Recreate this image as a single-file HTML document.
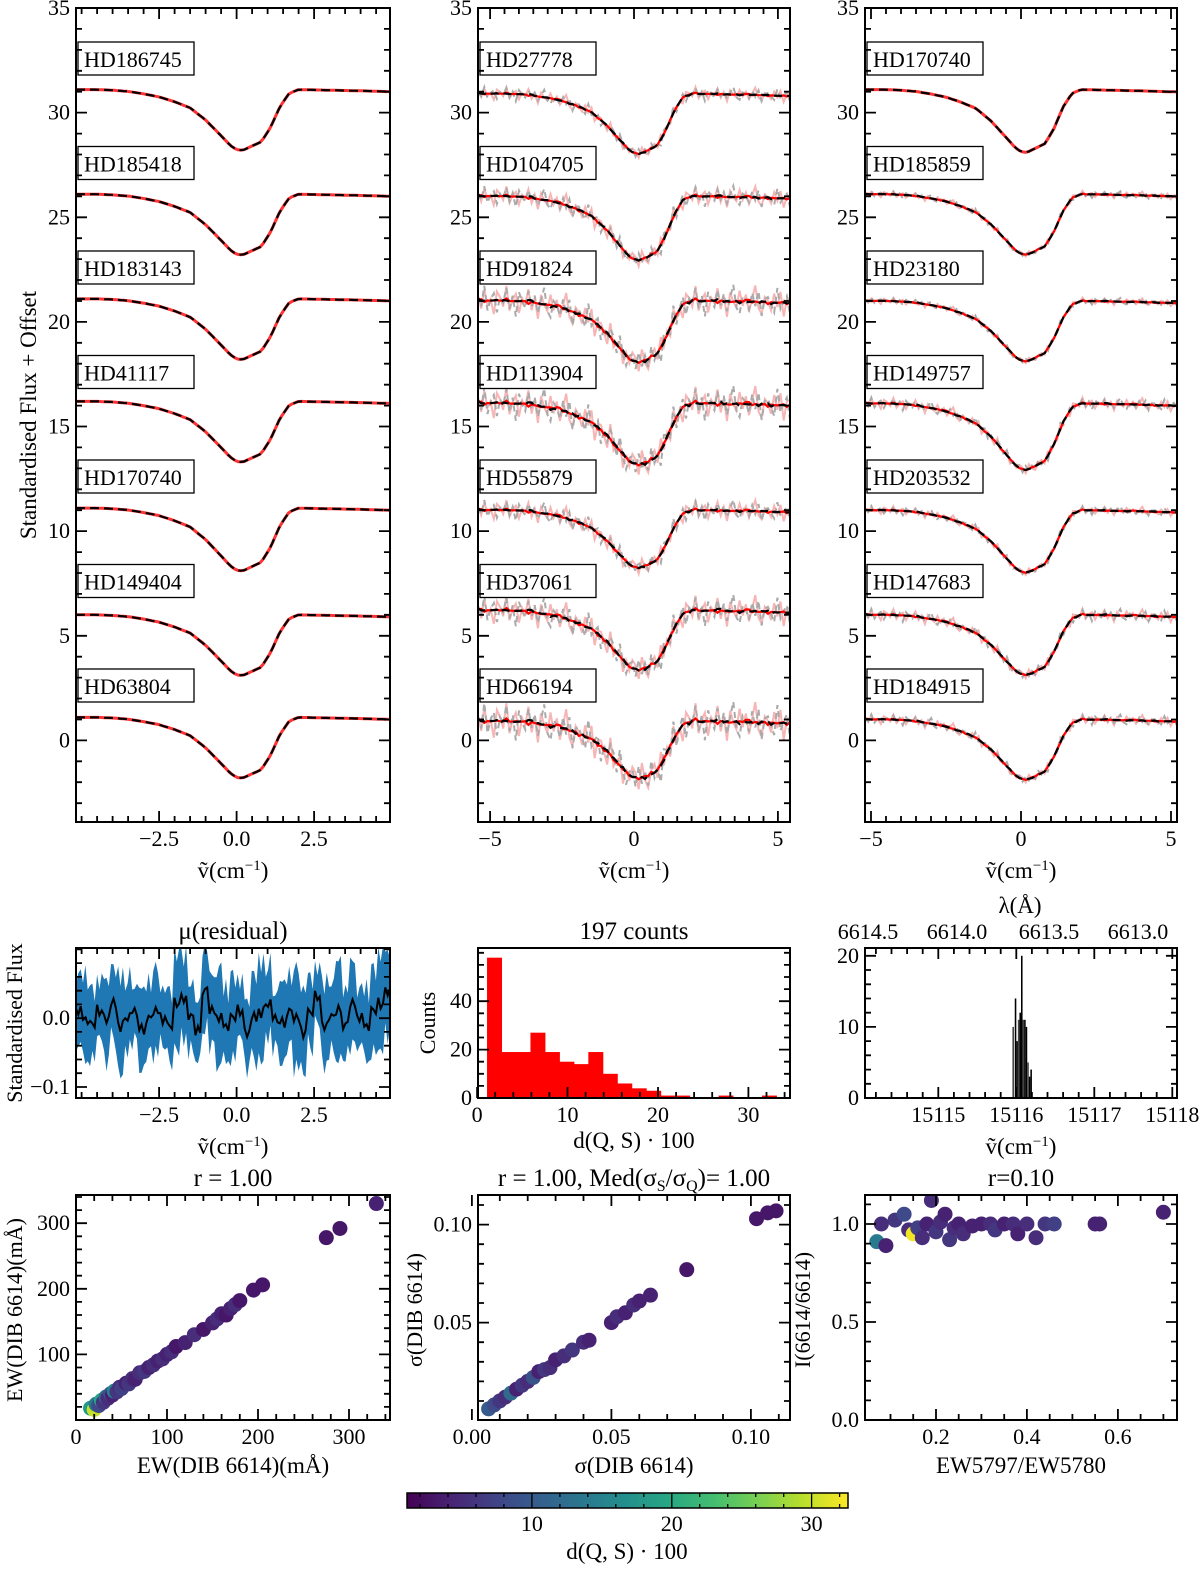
<!DOCTYPE html>
<html><head><meta charset="utf-8"><style>
html,body{margin:0;padding:0;background:#fff;}
text{font-family:"Liberation Serif",serif;fill:#000;}
</style></head><body>
<svg id="fig" width="1200" height="1564" viewBox="0 0 1200 1564" xmlns="http://www.w3.org/2000/svg"></svg>
<script>
// ---------- DATA ----------
const profileX = [-5.4,-4.5,-4,-3.5,-3,-2.5,-2,-1.5,-1,-0.5,-0.2,0,0.2,0.5,0.8,1.1,1.4,1.7,2,3,4,5.4];
const profileF = [0,0,-0.01,-0.03,-0.07,-0.12,-0.2,-0.3,-0.5,-0.76,-0.92,-0.99,-1,-0.93,-0.86,-0.62,-0.28,-0.06,0,-0.01,-0.02,-0.04];
const leftNames = ["HD186745","HD185418","HD183143","HD41117","HD170740","HD149404","HD63804"];
const leftCont = [31.1,26.1,21.1,16.2,11.1,6.0,1.1];
const leftMin = [28.2,23.2,18.2,13.3,8.1,3.1,-1.8];
const midNames = ["HD27778","HD104705","HD91824","HD113904","HD55879","HD37061","HD66194"];
const midCont = [30.9,26.0,21.0,16.1,11.0,6.2,0.9];
const midMin = [28.0,22.9,18.0,13.1,8.2,3.3,-1.9];
const midNoise = [0.4,0.6,0.9,1.0,0.6,0.9,1.1];
const rightNames = ["HD170740","HD185859","HD23180","HD149757","HD203532","HD147683","HD184915"];
const rightCont = [31.1,26.1,21.0,16.1,11.0,6.0,1.0];
const rightMin = [28.1,23.2,18.1,12.9,8.0,3.1,-1.9];
const noise = [0.3,-0.4,0.6,-0.2,0.1,-0.7,0.5,0.2,-0.3,0.8,-0.5,0.1,0.4,-0.6,0.2,-0.1,0.7,-0.4,0.3,-0.8,0.5,0.0,-0.3,0.6,-0.2,0.4,-0.5,0.2,0.9,-0.3,-0.6,0.3,0.1,-0.4,0.5,-0.2,0.6,-0.7,0.2,0.3,-0.1,-0.5,0.8,-0.3,0.1,0.4,-0.6,0.2,-0.2,0.5,0.3,-0.4,0.7,-0.1,-0.5,0.2,0.4,-0.3,0.6,-0.2];
const resid = [0.01,0.0,-0.01,0.01,0.0,0.02,-0.01,0.0,0.01,-0.02,0.0,0.01,0.0,-0.01,0.02,0.03,0.0,-0.02,0.04,0.01,0.0,-0.01,0.0,0.01,-0.02,0.0,0.01,0.02,0.0,-0.01,0.01,0.0,-0.02,0.01,0.03,-0.01,0.0,0.01,-0.01,0.02,0.0,-0.01,0.01,0.02,0.04];
const residBand = [0.05,0.06,0.05,0.04,0.06,0.05,0.07,0.05,0.04,0.06,0.05,0.06,0.04,0.05,0.07,0.06,0.05,0.04,0.06,0.05,0.07,0.05,0.06,0.04,0.05,0.06,0.07,0.05,0.04,0.06,0.05,0.07,0.06,0.05,0.04,0.06,0.05,0.07,0.05,0.06,0.04,0.05,0.06,0.07,0.06];
const histCounts = [58,19,19,27,19,15,14,19,10,6,4,3,1,1,0,0,1,0,0,1];
const histBinW = 1.6;
const wnBins = [15115.95,15115.98,15116.0,15116.02,15116.04,15116.06,15116.08,15116.1,15116.12,15116.14,15116.16,15116.18];
const wnCounts = [10,14,8,11,12,20,11,11,10,5,3,4];
const ewX = [16,20,22,25,28,30,33,35,38,40,42,45,48,50,55,58,62,65,70,75,80,85,90,95,100,105,110,120,130,140,150,155,160,165,170,175,180,195,205,275,290,330];
const ewY = [18,16,24,22,30,27,35,33,40,38,44,43,50,48,56,55,63,62,72,74,80,84,90,93,100,104,112,118,130,138,148,154,162,160,170,176,182,198,206,278,292,330];
const ewC = [18,30,14,8,20,6,12,5,9,4,15,6,5,7,4,6,5,4,5,6,4,5,4,5,4,5,3,4,5,3,4,5,4,3,4,5,3,3,3,3,3,4];
const sgX = [0.006,0.008,0.01,0.012,0.014,0.016,0.018,0.02,0.022,0.024,0.026,0.028,0.03,0.033,0.036,0.04,0.042,0.05,0.052,0.055,0.058,0.06,0.064,0.077,0.102,0.106,0.109];
const sgY = [0.006,0.008,0.01,0.012,0.014,0.016,0.018,0.02,0.022,0.025,0.026,0.027,0.031,0.033,0.036,0.04,0.041,0.05,0.053,0.055,0.059,0.061,0.064,0.077,0.103,0.106,0.107];
const sgC = [10,8,6,5,12,4,6,5,9,4,6,5,4,5,6,5,4,4,5,4,5,4,4,3,3,3,3];
const rtX = [0.07,0.08,0.09,0.11,0.13,0.14,0.15,0.16,0.17,0.18,0.19,0.2,0.21,0.22,0.23,0.24,0.25,0.26,0.28,0.3,0.32,0.33,0.35,0.37,0.38,0.4,0.42,0.44,0.46,0.55,0.56,0.7];
const rtY = [0.91,1.0,0.89,1.02,1.05,0.97,0.95,0.98,0.93,1.0,1.12,0.96,1.01,1.05,0.92,0.98,1.0,0.95,0.99,1.0,1.0,0.97,1.0,1.0,0.95,1.0,0.93,1.0,1.0,1.0,1.0,1.06];
const rtC = [14,5,4,6,8,5,32,7,5,4,5,6,5,4,6,5,4,5,4,4,5,6,4,5,4,5,5,6,7,4,4,4];
const cbTicks = [10,20,30];

// ---------- HELPERS ----------
const NS="http://www.w3.org/2000/svg", svg=document.getElementById('fig');
const FONT='"Liberation Serif", serif';
const tickLayer=[];
function el(tag,attrs,parent){const e=document.createElementNS(NS,tag);for(const k in attrs)e.setAttribute(k,attrs[k]);(parent||svg).appendChild(e);return e;}
function txt(x,y,s,size,anchor,parent){const t=el('text',{x:x,y:y,'font-size':size,'text-anchor':anchor||'middle','font-family':FONT,fill:'#000'},parent);t.textContent=s;return t;}
function rtxt(x,y,s,size,parent){const t=el('text',{x:x,y:y,'font-size':size,'text-anchor':'middle','font-family':FONT,fill:'#000',transform:`rotate(-90 ${x} ${y})`},parent);t.textContent=s;return t;}
function seg(arr,x1,y1,x2,y2){arr.push(`M${x1.toFixed(1)},${y1.toFixed(1)}L${x2.toFixed(1)},${y2.toFixed(1)}`);}
function viridis(v){const stops=[[68,1,84],[72,40,120],[62,74,137],[49,104,142],[38,130,142],[31,158,137],[53,183,121],[109,205,89],[180,222,44],[253,231,37]];
 let t=Math.max(0,Math.min(1,(v-1)/(32.6-1)))*(stops.length-1);const i=Math.min(stops.length-2,Math.floor(t)),f=t-i;
 const c=stops[i].map((a,k)=>Math.round(a+(stops[i+1][k]-a)*f));return `rgb(${c[0]},${c[1]},${c[2]})`;}
function panel(name,x0,x1,y0,y1,xmin,xmax,ymin,ymax){
 const g=el('g',{});
 const sx=v=>x0+(v-xmin)/(xmax-xmin)*(x1-x0), sy=v=>y1-(v-ymin)/(ymax-ymin)*(y1-y0);
 const clipId='c'+name;const cp=el('clipPath',{id:clipId},g);el('rect',{x:x0,y:y0,width:x1-x0,height:y1-y0},cp);
 const plot=el('g',{'clip-path':`url(#${clipId})`},g);
 return {g,plot,sx,sy,x0,x1,y0,y1};}
function ticks(p,xmaj,xmin_,ymaj,ymin_,xlab,ylab,top=true){
 const d=[];
 xmin_.forEach(v=>{const x=p.sx(v);if(x<p.x0||x>p.x1)return;seg(d,x,p.y1,x,p.y1-6);if(top)seg(d,x,p.y0,x,p.y0+6);});
 xmaj.forEach(v=>{const x=p.sx(v);seg(d,x,p.y1,x,p.y1-11);if(top)seg(d,x,p.y0,x,p.y0+11);});
 ymin_.forEach(v=>{const y=p.sy(v);if(y<p.y0||y>p.y1)return;seg(d,p.x0,y,p.x0+6,y);seg(d,p.x1,y,p.x1-6,y);});
 ymaj.forEach(v=>{const y=p.sy(v);seg(d,p.x0,y,p.x0+11,y);seg(d,p.x1,y,p.x1-11,y);});
 tickLayer.push(d.join(''));
 xmaj.forEach((v,i)=>txt(p.sx(v),p.y1+24,xlab[i],22,'middle',p.g));
 ymaj.forEach((v,i)=>txt(p.x0-6,p.sy(v)+7,ylab[i],22,'end',p.g));
 el('rect',{x:p.x0,y:p.y0,width:p.x1-p.x0,height:p.y1-p.y0,fill:'none',stroke:'#000','stroke-width':2},p.g);}
function range(a,b,s){const r=[];for(let v=a;v<=b+1e-9;v+=s)r.push(+v.toFixed(4));return r;}
function interp(x){for(let i=0;i<profileX.length-1;i++){if(x<=profileX[i+1]){const f=(x-profileX[i])/(profileX[i+1]-profileX[i]);return profileF[i]+f*(profileF[i+1]-profileF[i]);}}return profileF[profileF.length-1];}
function path(xs,ys,p){return xs.map((x,i)=>(i?'L':'M')+p.sx(x).toFixed(1)+','+p.sy(ys[i]).toFixed(1)).join(' ');}
function nuLabel(p){const t=el('text',{x:(p.x0+p.x1)/2,y:p.y1+56,'font-size':23,'text-anchor':'middle','font-family':FONT},p.g);t.innerHTML='ṽ(cm<tspan dy="-8" font-size="15">−1</tspan><tspan dy="8">)</tspan>';}

// ---------- TOP SPECTRA PANELS ----------
function specPanel(name,x0,x1,xmin,xmax,names,cont,mins,nz,xmaj,xlab){
 const p=panel(name,x0,x1,8,822,xmin,xmax,-3.9,35);
 const xs=range(xmin,xmax,(xmax-xmin)/99);
 names.forEach((n,k)=>{
  const d=cont[k]-mins[k];
  const ys=xs.map(x=>cont[k]+d*interp(x));
  if(nz[k]>0){
   const ysn=xs.map((x,i)=>ys[i]+nz[k]*noise[i%noise.length]);
   const ysg=xs.map((x,i)=>ys[i]+nz[k]*noise[(i+7)%noise.length]);
   const e1=el('path',{d:path(xs,ysn,p),fill:'none',stroke:'rgba(240,90,90,0.45)','stroke-width':2},p.plot);
   
   const e2=el('path',{d:path(xs,ysg,p),fill:'none',stroke:'#aaa','stroke-width':2,'stroke-dasharray':'6,4'},p.plot);
   
   const sm=xs.map((x,i)=>{let s=0;for(let j=-3;j<=3;j++)s+=noise[(i+j+60)%noise.length];return s/7;});
   const ysb=xs.map((x,i)=>ys[i]+nz[k]*0.8*sm[i]);
   const e3=el('path',{d:path(xs,ysb,p),fill:'none',stroke:'red','stroke-width':2.2},p.plot);
   
   const ysk=xs.map((x,i)=>ys[i]+nz[k]*0.8*sm[(i+9)%xs.length]);
   const e4=el('path',{d:path(xs,ysk,p),fill:'none',stroke:'#000','stroke-width':2.2,'stroke-dasharray':'8,5'},p.plot);
   
  } else {
   const e3=el('path',{d:path(xs,ys,p),fill:'none',stroke:'#f33','stroke-width':3},p.plot);
   
   const e4=el('path',{d:path(xs,ys,p),fill:'none',stroke:'#000','stroke-width':2.2,'stroke-dasharray':'9,5'},p.plot);
   
  }
 });
 ticks(p,xmaj,range(Math.ceil(xmin*2)/2,xmax,0.5),range(0,35,5),range(-3,35,1),xlab,['0','5','10','15','20','25','30','35']);
 names.forEach((n,k)=>{
  const by=42+k*104.5;
  const r=el('rect',{x:x0+2,y:by,width:116,height:33,fill:'#fff',stroke:'#000','stroke-width':1.3},p.g);
  
  txt(x0+8,by+25,n,22,'start',p.g);
 });
 nuLabel(p);return p;}
const pL=specPanel('left-spectra-panel',76,390,-5.18,4.95,leftNames,leftCont,leftMin,[0,0,0,0,0,0,0],[-2.5,0,2.5],['−2.5','0.0','2.5']);
const pM=specPanel('middle-spectra-panel',478,790,-5.42,5.42,midNames,midCont,midMin,midNoise,[-5,0,5],['−5','0','5']);
const pR=specPanel('right-spectra-panel',865,1177,-5.2,5.2,rightNames,rightCont,rightMin,[0,0.2,0.2,0.35,0.25,0.35,0.3],[-5,0,5],['−5','0','5']);
{const t=rtxt(36,415,'Standardised Flux + Offset',23);}

// ---------- ROW 2 ----------
{const p=panel('residual-panel',76,390,948,1098,-5.18,4.95,-0.116,0.102);
 const xs=[],mid=[],up=[],lo=[];
 const N=resid.length*3;
 for(let i=0;i<N;i++){const j=Math.floor(i/3);xs.push(-5.18+i*(10.13/(N-1)));
  const m=resid[j]+0.012*noise[i%noise.length];mid.push(m);
  up.push(m+residBand[j]+0.02*noise[(i+5)%noise.length]);lo.push(m-residBand[j]+0.02*noise[(i+13)%noise.length]);}
 const band=el('path',{d:path(xs,up,p)+' '+path(xs.slice().reverse(),lo.slice().reverse(),p).replace('M','L')+' Z',fill:'#1f77b4'},p.plot);
 
 const l=el('path',{d:path(xs,mid,p),fill:'none',stroke:'#000','stroke-width':2},p.plot);
 
 ticks(p,[-2.5,0,2.5],range(-5,4.5,0.5),[-0.1,0],range(-0.1,0.1,0.02),['−2.5','0.0','2.5'],['−0.1','0.0']);
 txt(233,939,'μ(residual)',25,'middle',p.g);nuLabel(p);
 rtxt(22,1023,'Standardised Flux',22,p.g);}
{const p=panel('distance-histogram',478,790,948,1098,0.1,34.6,0,62);
 histCounts.forEach((c,i)=>{if(!c)return;const x=1.1+i*histBinW;const b=el('rect',{x:p.sx(x),y:p.sy(c),width:p.sx(x+histBinW)-p.sx(x)+0.5,height:p.sy(0)-p.sy(c),fill:'red'},p.plot);
  });
 ticks(p,[0,10,20,30],range(2,34,2),[0,20,40],range(0,60,5),['0','10','20','30'],['0','20','40'],false);
 txt(634,939,'197 counts',25,'middle',p.g);txt(634,1148,'d(Q, S) · 100',23,'middle',p.g);
 rtxt(435,1023,'Counts',22,p.g);}
{const p=panel('wavenumber-histogram',865,1177,948,1098,15114.06,15118.06,0,21.1);
 wnBins.forEach((b,i)=>{const r=el('rect',{x:p.sx(b),y:p.sy(wnCounts[i]),width:Math.max(1.5,p.sx(b+0.02)-p.sx(b)),height:p.sy(0)-p.sy(wnCounts[i]),fill:i%3?'#000':'#444'},p.plot);
  });
 ticks(p,[15115,15116,15117,15118],range(15114.2,15118,0.2),[0,10,20],range(0,20,2),['15115','15116','15117','15118'],['0','10','20'],true);
 nuLabel(p);
 [[6614.5,868],[6614.0,957],[6613.5,1049],[6613.0,1138]].forEach(([v,x])=>txt(x,939,v.toFixed(1),22,'middle',p.g));
 txt(1020,913,'λ(Å)',23,'middle',p.g);}

// ---------- ROW 3 SCATTERS ----------
function scatter(name,x0,x1,xmin,xmax,ymin,ymax,X,Y,C,xmaj,xl,ymaj,yl,xmi,ymi){
 const p=panel(name,x0,x1,1195,1420,xmin,xmax,ymin,ymax);
 X.forEach((x,i)=>{const c=el('circle',{cx:p.sx(x),cy:p.sy(Y[i]),r:7.5,fill:viridis(C[i])},p.plot);
  });
 ticks(p,xmaj,xmi,ymaj,ymi,xl,yl);return p;}
{const p=scatter('ew-scatter',76,390,0,345,0,343,ewX,ewY,ewC,[0,100,200,300],['0','100','200','300'],[100,200,300],['100','200','300'],range(20,340,20),range(20,340,20));
 txt(233,1186,'r =  1.00',25,'middle',p.g);txt(233,1473,'EW(DIB 6614)(mÅ)',23,'middle',p.g);
 rtxt(22,1310,'EW(DIB 6614)(mÅ)',22,p.g);}
{const p=scatter('sigma-scatter',478,790,0.0022,0.1140,0.0003,0.1151,sgX,sgY,sgC,[0,0.05,0.1],['0.00','0.05','0.10'],[0.05,0.1],['0.05','0.10'],range(0.01,0.11,0.01),range(0.01,0.11,0.01));
 const t1=el('text',{x:634,y:1186,'font-size':25,'text-anchor':'middle','font-family':FONT},p.g);t1.innerHTML='r =  1.00, Med(σ<tspan font-size="16" dy="5">S</tspan><tspan dy="-5">/σ</tspan><tspan font-size="16" dy="5">Q</tspan><tspan dy="-5">)= 1.00</tspan>';
 txt(634,1473,'σ(DIB 6614)',23,'middle',p.g);
 rtxt(422,1310,'σ(DIB 6614)',22,p.g);}
{const p=scatter('ratio-scatter',865,1177,0.044,0.73,0,1.148,rtX,rtY,rtC,[0.2,0.4,0.6],['0.2','0.4','0.6'],[0,0.5,1],['0.0','0.5','1.0'],range(0.1,0.7,0.05),range(0.1,1.1,0.1));
 txt(1021,1186,'r=0.10',25,'middle',p.g);txt(1021,1473,'EW5797/EW5780',23,'middle',p.g);
 rtxt(810,1310,'I(6614/6614)',22,p.g);}

// ---------- COLORBAR ----------
{const g=el('g',{});
 const grad=el('linearGradient',{id:'vir',x1:0,x2:1,y1:0,y2:0},el('defs',{},g));
 for(let i=0;i<=10;i++)el('stop',{offset:i/10,'stop-color':viridis(1+i/10*31.6)},grad);
 el('rect',{x:407,y:1493,width:441,height:15,fill:'url(#vir)',stroke:'#000','stroke-width':1.5},g);
 const cx=v=>407+(v-1.07)/(32.6-1.07)*441;
 const d=[];
 for(let v=2;v<=32;v+=2){const x=cx(v);seg(d,x,1508,x,v%10?1504:1500);seg(d,x,1493,x,v%10?1497:1501);}
 el('path',{d:d.join(''),stroke:'#000','stroke-width':1.3,fill:'none'},g);
 cbTicks.forEach(v=>txt(cx(v),1531,String(v),22,'middle',g));
 txt(627,1559,'d(Q, S) · 100',23,'middle',g);}

// ---------- TICK MARKS (top layer) ----------
{const tp=el('path',{d:tickLayer.join(''),stroke:'#000','stroke-width':1.8,fill:'none'});
 }
</script>
</body></html>
